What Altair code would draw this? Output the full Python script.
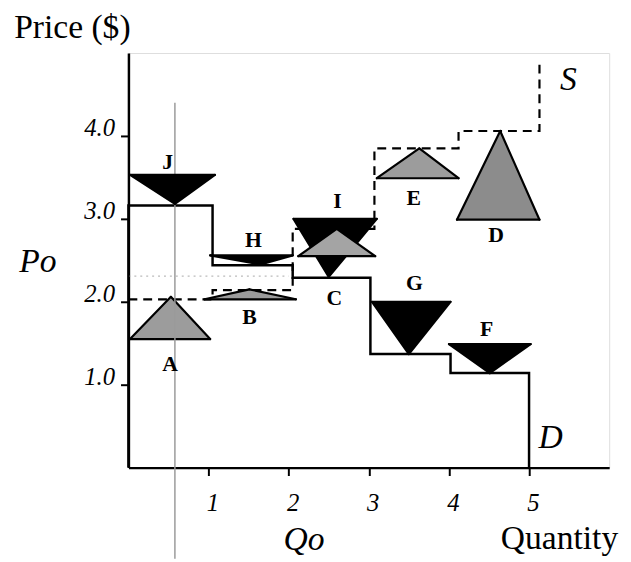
import altair as alt
import pandas as pd

# ---- data ----
demand_q = [0, 1.05, 2.05, 3.02, 4.02, 5.0]
demand_p = [3.16, 2.44, 2.29, 1.37, 1.14]
supply_q = [0, 1.05, 2.05, 3.07, 4.12, 5.13]
supply_p = [2.03, 2.14, 2.88, 3.85, 4.06]
supply_end = 4.92

tri_id = ["J", "H", "I", "G", "F", "A", "B", "C", "E", "D"]
tri_kind = ["down", "down", "down", "down", "down", "up", "up", "up", "up", "up"]
tri_base = [3.53, 2.56, 3.0, 2.0, 1.49, 1.55, 2.03, 2.55, 3.49, 2.99]
tri_left = [0.02, 1.02, 2.06, 3.04, 4.0, 0.02, 0.95, 2.12, 3.1, 4.1]
tri_right = [1.08, 2.05, 3.1, 4.02, 5.02, 1.02, 2.09, 3.08, 4.12, 5.13]
tri_apex_x = [0.58, 1.65, 2.5, 3.5, 4.51, 0.53, 1.51, 2.6, 3.63, 4.64]
tri_apex_y = [3.18, 2.45, 2.3, 1.37, 1.14, 2.06, 2.15, 2.88, 3.85, 4.06]
tri_fill = ["#000000"] * 5 + ["#9c9c9c", "#9c9c9c", "#a4a4a4", "#9c9c9c", "#8c8c8c"]
on_top = ["C"]   # gray triangle lying over a black one

lab_text = ["J", "H", "I", "G", "F", "A", "B", "C", "E", "D"]
lab_x = [0.49, 1.56, 2.61, 3.57, 4.47, 0.52, 1.51, 2.57, 3.56, 4.59]
lab_y = [3.69, 2.74, 3.21, 2.23, 1.67, 1.25, 1.81, 2.05, 3.25, 2.80]

big_text = ["Price ($)", "Po", "Qo", "Quantity", "S", "D"]
big_x = [-0.70, -1.13, 2.19, 5.38, 5.49, 5.27]
big_y = [5.3, 2.48, -0.87, -0.86, 4.67, 0.36]
big_italic = [False, True, True, False, True, True]

x_ticks = [1, 2, 3, 4, 5]
y_ticks = [1, 2, 3, 4]
ref_q = 0.58
ref_top = 4.4
ref_bottom = -1.1
po_line = 2.31

# ---- build tables ----
def steps(qs, ps, start_y, end_y):
    pts = [(qs[0], start_y)]
    for i, p in enumerate(ps):
        pts.append((qs[i], p))
        pts.append((qs[i + 1], p))
    pts.append((qs[-1], end_y))
    return pd.DataFrame({"q": [a for a, _ in pts], "p": [b for _, b in pts], "o": list(range(len(pts)))})

demand_df = steps(demand_q, demand_p, 0, 0)
supply_df = steps(supply_q, supply_p, supply_p[0], supply_end)

rows, edges = [], []
for i, t in enumerate(tri_id):
    grp = "top" if t in on_top else tri_kind[i]
    pts = [(tri_left[i], tri_base[i]), (tri_apex_x[i], tri_apex_y[i]), (tri_right[i], tri_base[i])]
    for (xx, yy) in pts:
        rows.append({"id": t, "grp": grp, "x": xx, "y": yy, "y2": tri_base[i], "fill": tri_fill[i]})
    for k in range(3):
        a, b = pts[k], pts[(k + 1) % 3]
        edges.append({"id": t, "grp": grp, "ex": a[0], "ey": a[1], "ex2": b[0], "ey2": b[1]})
tri_df = pd.DataFrame(rows)
edge_df = pd.DataFrame(edges)

lab_df = pd.DataFrame({"t": lab_text, "x": lab_x, "y": lab_y})
big_df = pd.DataFrame({"t": big_text, "x": big_x, "y": big_y, "it": big_italic})

xs = alt.Scale(domain=[0, 6], nice=False, zero=False)
ys = alt.Scale(domain=[0, 5], nice=False, zero=False)
FONT = "Liberation Serif"

x_axis = alt.Axis(values=x_ticks, title=None, grid=False, format="d", labelFont=FONT, labelFontStyle="italic",
                  labelFontSize=25, labelColor="black", labelPadding=15, labelOffset=4,
                  tickColor="black", tickSize=8, tickWidth=2, domainColor="black", domainWidth=2.5)
y_axis = alt.Axis(values=y_ticks, title=None, grid=False, labelFont=FONT, labelFontStyle="italic",
                  labelFontSize=25, labelColor="black", labelPadding=6, labelBaseline="alphabetic",
                  labelExpr="format(datum.value, '.1f')",
                  tickColor="black", tickSize=8, tickWidth=2, domainColor="black", domainWidth=2.5)

base_axes = alt.Chart(pd.DataFrame({"x": [0], "y": [0]})).mark_point(opacity=0).encode(
    x=alt.X("x:Q", scale=xs, axis=x_axis),
    y=alt.Y("y:Q", scale=ys, axis=y_axis),
)

ref_df = pd.DataFrame({"x": [ref_q], "y": [ref_bottom], "y2": [ref_top]})
ref_line = alt.Chart(ref_df).mark_rule(color="#9a9a9a", strokeWidth=1.5).encode(
    x=alt.X("x:Q", scale=xs), y=alt.Y("y:Q", scale=ys), y2="y2:Q")

po_df = pd.DataFrame({"x": [0], "x2": [2.0], "y": [po_line]})
po_rule = alt.Chart(po_df).mark_rule(color="#bbbbbb", strokeWidth=1.2, strokeDash=[2, 4]).encode(
    x=alt.X("x:Q", scale=xs), x2="x2:Q", y=alt.Y("y:Q", scale=ys))

demand = alt.Chart(demand_df).mark_line(color="black", strokeWidth=2.5, interpolate="linear").encode(
    x=alt.X("q:Q", scale=xs), y=alt.Y("p:Q", scale=ys), order="o:Q")
supply = alt.Chart(supply_df).mark_line(color="black", strokeWidth=2.2, strokeDash=[9, 6]).encode(
    x=alt.X("q:Q", scale=xs), y=alt.Y("p:Q", scale=ys), order="o:Q")

def tri_layer(grp):
    fill = alt.Chart(tri_df).transform_filter(alt.datum.grp == grp).mark_area(
        interpolate="linear", opacity=1, orient="vertical").encode(
        x=alt.X("x:Q", scale=xs), y=alt.Y("y:Q", scale=ys), y2="y2:Q",
        fill=alt.Fill("fill:N", scale=None), detail="id:N")
    edge = alt.Chart(edge_df).transform_filter(alt.datum.grp == grp).mark_rule(
        color="black", strokeWidth=2.2, strokeCap="round").encode(
        x=alt.X("ex:Q", scale=xs), y=alt.Y("ey:Q", scale=ys), x2="ex2:Q", y2="ey2:Q")
    return [fill, edge]

labels = alt.Chart(lab_df).mark_text(font=FONT, fontSize=22, color="black", fontWeight="bold").encode(
    x=alt.X("x:Q", scale=xs), y=alt.Y("y:Q", scale=ys), text="t:N")

def big_layer(italic):
    return alt.Chart(big_df).transform_filter(alt.datum.it == italic).mark_text(
        font=FONT, fontSize=34, color="black", fontStyle="italic" if italic else "normal").encode(
        x=alt.X("x:Q", scale=xs), y=alt.Y("y:Q", scale=ys), text="t:N")

chart = alt.layer(base_axes, po_rule, demand, supply, *tri_layer("up"), ref_line, *tri_layer("down"),
                  *tri_layer("top"), labels, big_layer(True), big_layer(False)).properties(
    width=487, height=420,
    padding={"left": 122, "top": 42, "right": 14, "bottom": 92},
    autosize=alt.AutoSizeParams(type="none"),
).configure_view(stroke=None).configure(background="white")

chart.save("out.html", embed_options={"renderer": "svg", "actions": False})
